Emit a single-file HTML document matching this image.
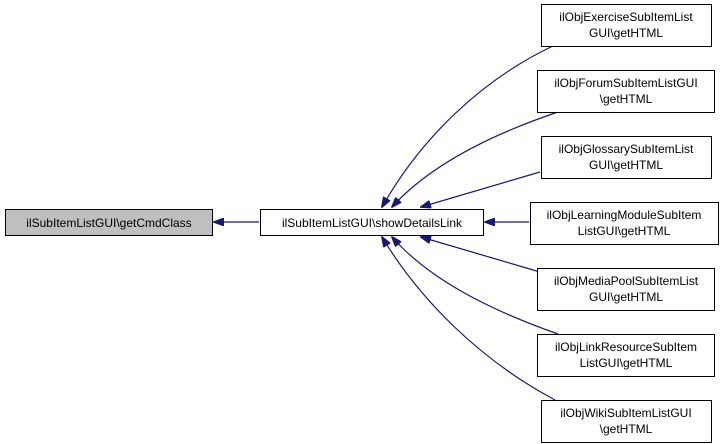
<!DOCTYPE html>
<html><head><style>body{margin:0;background:#fff}svg{display:block}text{font-family:"Liberation Sans",sans-serif;font-size:12px;fill:#000}</style></head>
<body>
<svg width="724" height="444" viewBox="0 0 724 444" xmlns="http://www.w3.org/2000/svg">
<defs><marker id="a" markerWidth="11" markerHeight="8" refX="10" refY="4" orient="auto" markerUnits="userSpaceOnUse"><polygon points="0,0 11,4 0,8" fill="#191970" stroke="#191970"/></marker></defs>
<g fill="none" stroke="#191970" stroke-width="1.2">
<path d="M259,222 L214,222" marker-end="url(#a)"/>
<path d="M555,45 C480,80 420,140 382,207" marker-end="url(#a)"/>
<path d="M558,112 C490,135 430,165 392,207" marker-end="url(#a)"/>
<path d="M540,172 L421,207" marker-end="url(#a)"/>
<path d="M529,222 L485,222" marker-end="url(#a)"/>
<path d="M540,272 L421,237" marker-end="url(#a)"/>
<path d="M558,334 C490,310 430,280 392,237" marker-end="url(#a)"/>
<path d="M555,400 C480,360 420,300 382,237" marker-end="url(#a)"/>
</g>
<g stroke="#000" stroke-width="1">
<rect x="5.5" y="209.5" width="207" height="26" fill="#bfbfbf"/>
<rect x="260.5" y="209.5" width="223" height="26" fill="#fff"/>
<rect x="541.5" y="4.5" width="170" height="42" fill="#fff"/>
<rect x="537.5" y="70.5" width="177" height="42" fill="#fff"/>
<rect x="541.5" y="136.5" width="170" height="42" fill="#fff"/>
<rect x="530.5" y="202.5" width="188" height="42" fill="#fff"/>
<rect x="537.5" y="268.5" width="177" height="42" fill="#fff"/>
<rect x="537.5" y="334.5" width="177" height="42" fill="#fff"/>
<rect x="541.5" y="400.5" width="170" height="42" fill="#fff"/>
</g>
<g text-anchor="middle">
<text x="109" y="227">ilSubItemListGUI\getCmdClass</text>
<text x="372" y="227">ilSubItemListGUI\showDetailsLink</text>
<text x="626" y="21">ilObjExerciseSubItemList</text><text x="626" y="37">GUI\getHTML</text>
<text x="626" y="87">ilObjForumSubItemListGUI</text><text x="626" y="103">\getHTML</text>
<text x="626" y="153">ilObjGlossarySubItemList</text><text x="626" y="169">GUI\getHTML</text>
<text x="624" y="219">ilObjLearningModuleSubItem</text><text x="624" y="235">ListGUI\getHTML</text>
<text x="626" y="285">ilObjMediaPoolSubItemList</text><text x="626" y="301">GUI\getHTML</text>
<text x="626" y="351">ilObjLinkResourceSubItem</text><text x="626" y="367">ListGUI\getHTML</text>
<text x="626" y="417">ilObjWikiSubItemListGUI</text><text x="626" y="433">\getHTML</text>
</g>
</svg>
</body></html>
